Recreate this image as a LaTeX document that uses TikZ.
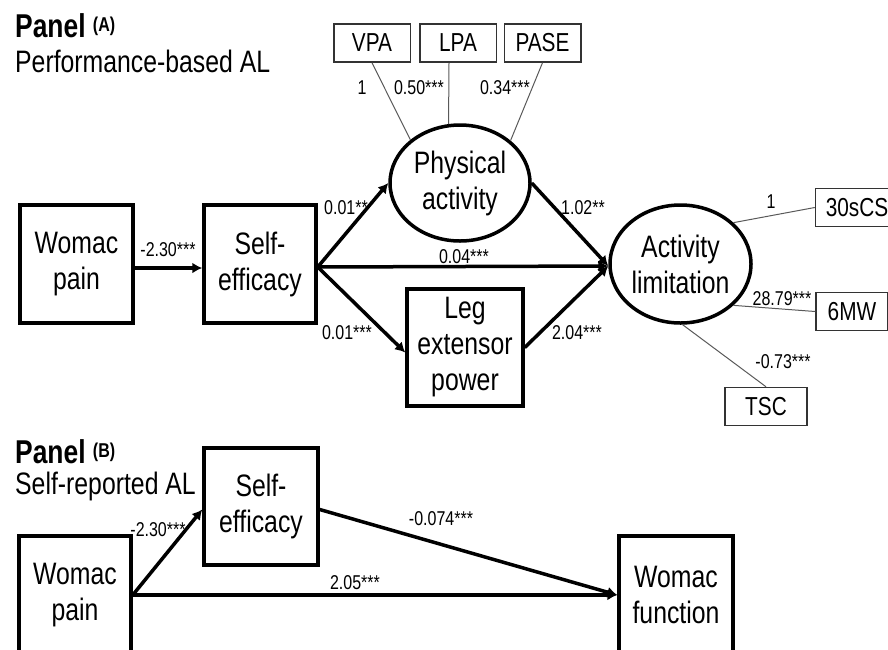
\documentclass[tikz,border=0pt]{standalone}
\usepackage{fontspec}
\setmainfont{Liberation Sans}[FakeStretch=0.8]
\usetikzlibrary{arrows.meta,shapes.geometric}
\newcommand\fbig{\fontsize{31}{36}\selectfont}
\newcommand\flab{\fontsize{20}{22}\selectfont}
\newcommand\fsmb{\fontsize{26}{28}\selectfont}
\newcommand\fpanel{\fontsize{33}{36}\selectfont\bfseries}
\begin{document}
\begin{tikzpicture}[x=1pt,y=-1pt,
  bigbox/.style={draw,line width=3.5pt,font=\fbig,align=center,inner sep=0pt},
  latent/.style={ellipse,draw,line width=3.5pt,font=\fbig,align=center,inner sep=0pt},
  smbox/.style={draw=black!80,line width=1.5pt,font=\fsmb,inner sep=0pt,minimum height=38pt},
  lab/.style={font=\flab,inner sep=0pt},
  ttl/.style={font=\fbig,inner sep=0pt,anchor=base west},
  arr/.style={line width=3.5pt,-{Latex[length=10pt,width=11pt]}},
  thinln/.style={line width=1pt,draw=black!65}]
\path[use as bounding box] (0,0) rectangle (888,649);
\clip (0,0) rectangle (888,649);

% ---------- Panel A ----------
\node[ttl] (pA) at (15,37) {\fpanel Panel \raisebox{6pt}{\fontsize{20}{20}\selectfont (A)}};
\node[ttl] (pAsub) at (15,72) {Performance-based AL};

\node[bigbox,minimum width=113pt,minimum height=118pt] (wpA) at (76.5,264) {Womac\\pain};
\node[bigbox,minimum width=112pt,minimum height=118pt] (seA) at (260,264) {Self-\\efficacy};
\node[latent,minimum width=140pt,minimum height=116pt] (paA) at (460,183) {Physical\\activity};
\node[latent,minimum width=141pt,minimum height=118pt] (alA) at (680.5,264) {Activity\\limitation};
\node[bigbox,minimum width=116pt,minimum height=117pt] (legA) at (465,347.5) {Leg\\extensor\\power};

\node[smbox,minimum width=76.5pt] (vpa) at (372,43) {VPA};
\node[smbox,minimum width=76.5pt] (lpa) at (458,43) {LPA};
\node[smbox,minimum width=76.5pt] (pase) at (542.5,43) {PASE};
\node[smbox,minimum width=83pt] (cs) at (857,207.5) {30sCS};
\node[smbox,minimum width=72pt] (mw) at (852,311.5) {6MW};
\node[smbox,minimum width=82pt] (tsc) at (766,406.5) {TSC};

\coordinate (seAout) at ([yshift=-3pt]seA.east);
\coordinate (alin) at ([yshift=-2pt]alA.west);

\draw[arr] ([yshift=-4pt]wpA.east) -- ([yshift=-4pt]seA.west);
\draw[arr] (seAout) -- (paA.west);
\draw[arr] (seAout) -- (alin);
\draw[arr] (seAout) -- ([yshift=-5pt]legA.west);
\draw[arr] (paA.east) -- (alin);
\draw[arr] (legA.east) -- (alin);

\draw[thinln] (vpa.south) -- (paA.139);
\draw[thinln] ([xshift=-9pt]lpa.south) -- (paA.101);
\draw[thinln] (pase.south) -- (paA.40);
\draw[thinln] (cs.west) -- (alA.38);
\draw[thinln] (mw.west) -- (alA.-38);
\draw[thinln] (tsc.north) -- (alA.-88);

\node[lab] (l1) at (168,250) {-2.30***};
\node[lab] (l2) at (346,208) {0.01**};
\node[lab] (l3) at (464,257) {0.04***};
\node[lab] (l4) at (347,333) {0.01***};
\node[lab] (l5) at (583,208) {1.02**};
\node[lab] (l6) at (577,333) {2.04***};
\node[lab] (l7) at (362,88) {1};
\node[lab] (l8) at (419,88) {0.50***};
\node[lab] (l9) at (505,88) {0.34***};
\node[lab] (l10) at (771,202) {1};
\node[lab] (l11) at (782,299) {28.79***};
\node[lab] (l12) at (783,362) {-0.73***};

% ---------- Panel B ----------
\node[ttl] (pB) at (15,463) {\fpanel Panel \raisebox{6pt}{\fontsize{20}{20}\selectfont (B)}};
\node[ttl] (pBsub) at (15,494) {Self-reported AL};

\node[bigbox,minimum width=114pt,minimum height=117pt] (seB) at (261,506.5) {Self-\\efficacy};
\node[bigbox,minimum width=112pt,minimum height=118pt] (wpB) at (75,595) {Womac\\pain};
\node[bigbox,minimum width=114pt,minimum height=118pt] (wfB) at (676,595) {Womac\\function};

\coordinate (wpBout) at (wpB.east);
\draw[arr] (wpBout) -- ([yshift=-3pt]seB.west);
\draw[arr] (wpBout) -- (wfB.west);
\draw[arr] ([yshift=-3pt]seB.east) -- (wfB.west);

\node[lab] (l13) at (158,530) {-2.30***};
\node[lab] (l14) at (355,583) {2.05***};
\node[lab] (l15) at (441,519) {-0.074***};
\end{tikzpicture}
\end{document}
